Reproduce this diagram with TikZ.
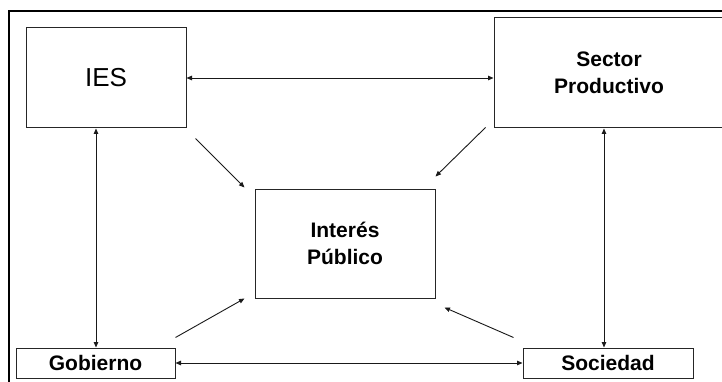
\documentclass[tikz,border=0pt]{standalone}
\usepackage{fontspec}
\setmainfont{Liberation Sans}
\usetikzlibrary{arrows.meta}
\begin{document}
\begin{tikzpicture}[x=1pt,y=-1pt,
  box/.style={draw=black!85,line width=1pt,inner sep=0pt,align=center,anchor=center},
  lbl/.style={font=\fontsize{21}{27}\selectfont\bfseries},
  conn/.style={line width=0.9pt,draw=black!90},
  tip/.style={-{Triangle[length=5.5pt,width=4.5pt]}},
  both/.style={{Triangle[length=5.5pt,width=4.5pt]}-{Triangle[length=5.5pt,width=4.5pt]}}]
\clip (0,0) rectangle (722,382);
\fill[white] (0,0) rectangle (722,382);
\draw[line width=2pt] (9,390) -- (9,11) -- (730,11);
\node[box,minimum width=160pt,minimum height=100pt,font=\fontsize{26}{30}\selectfont] (IES) at (106,78) {IES};
\node[box,lbl,minimum width=230pt,minimum height=110pt] (SP) at (609,73) {Sector\\Productivo};
\node[box,lbl,minimum width=180pt,minimum height=109pt] (IP) at (345,243.5) {Interés\\Público};
\node[box,lbl,minimum width=159pt,minimum height=30pt] (Gob) at (95.5,363) {Gobierno};
\node[box,lbl,minimum width=170pt,minimum height=30pt] (Soc) at (608,363) {Sociedad};
\coordinate (xl) at (96,0);
\coordinate (xr) at (604,0);
\draw[conn,both] (IES.east) -- (IES.east -| SP.west);
\draw[conn,both] (IES.south -| xl) -- (Gob.north -| xl);
\draw[conn,both] (SP.south -| xr) -- (Soc.north -| xr);
\draw[conn,both] (Gob.east) -- (Soc.west);
\draw[conn,tip] ([shift={(9,10)}]IES.south east) -- ([shift={(-10,-1)}]IP.north west);
\draw[conn,tip] ([shift={(-8,-1)}]SP.south west) -- ([shift={(0,-12)}]IP.north east);
\draw[conn,tip] ([shift={(0,-10)}]Gob.north east) -- ([shift={(-10,0)}]IP.south west);
\draw[conn,tip] ([shift={(-9,-10)}]Soc.north west) -- ([shift={(9,9)}]IP.south east);
\end{tikzpicture}
\end{document}
